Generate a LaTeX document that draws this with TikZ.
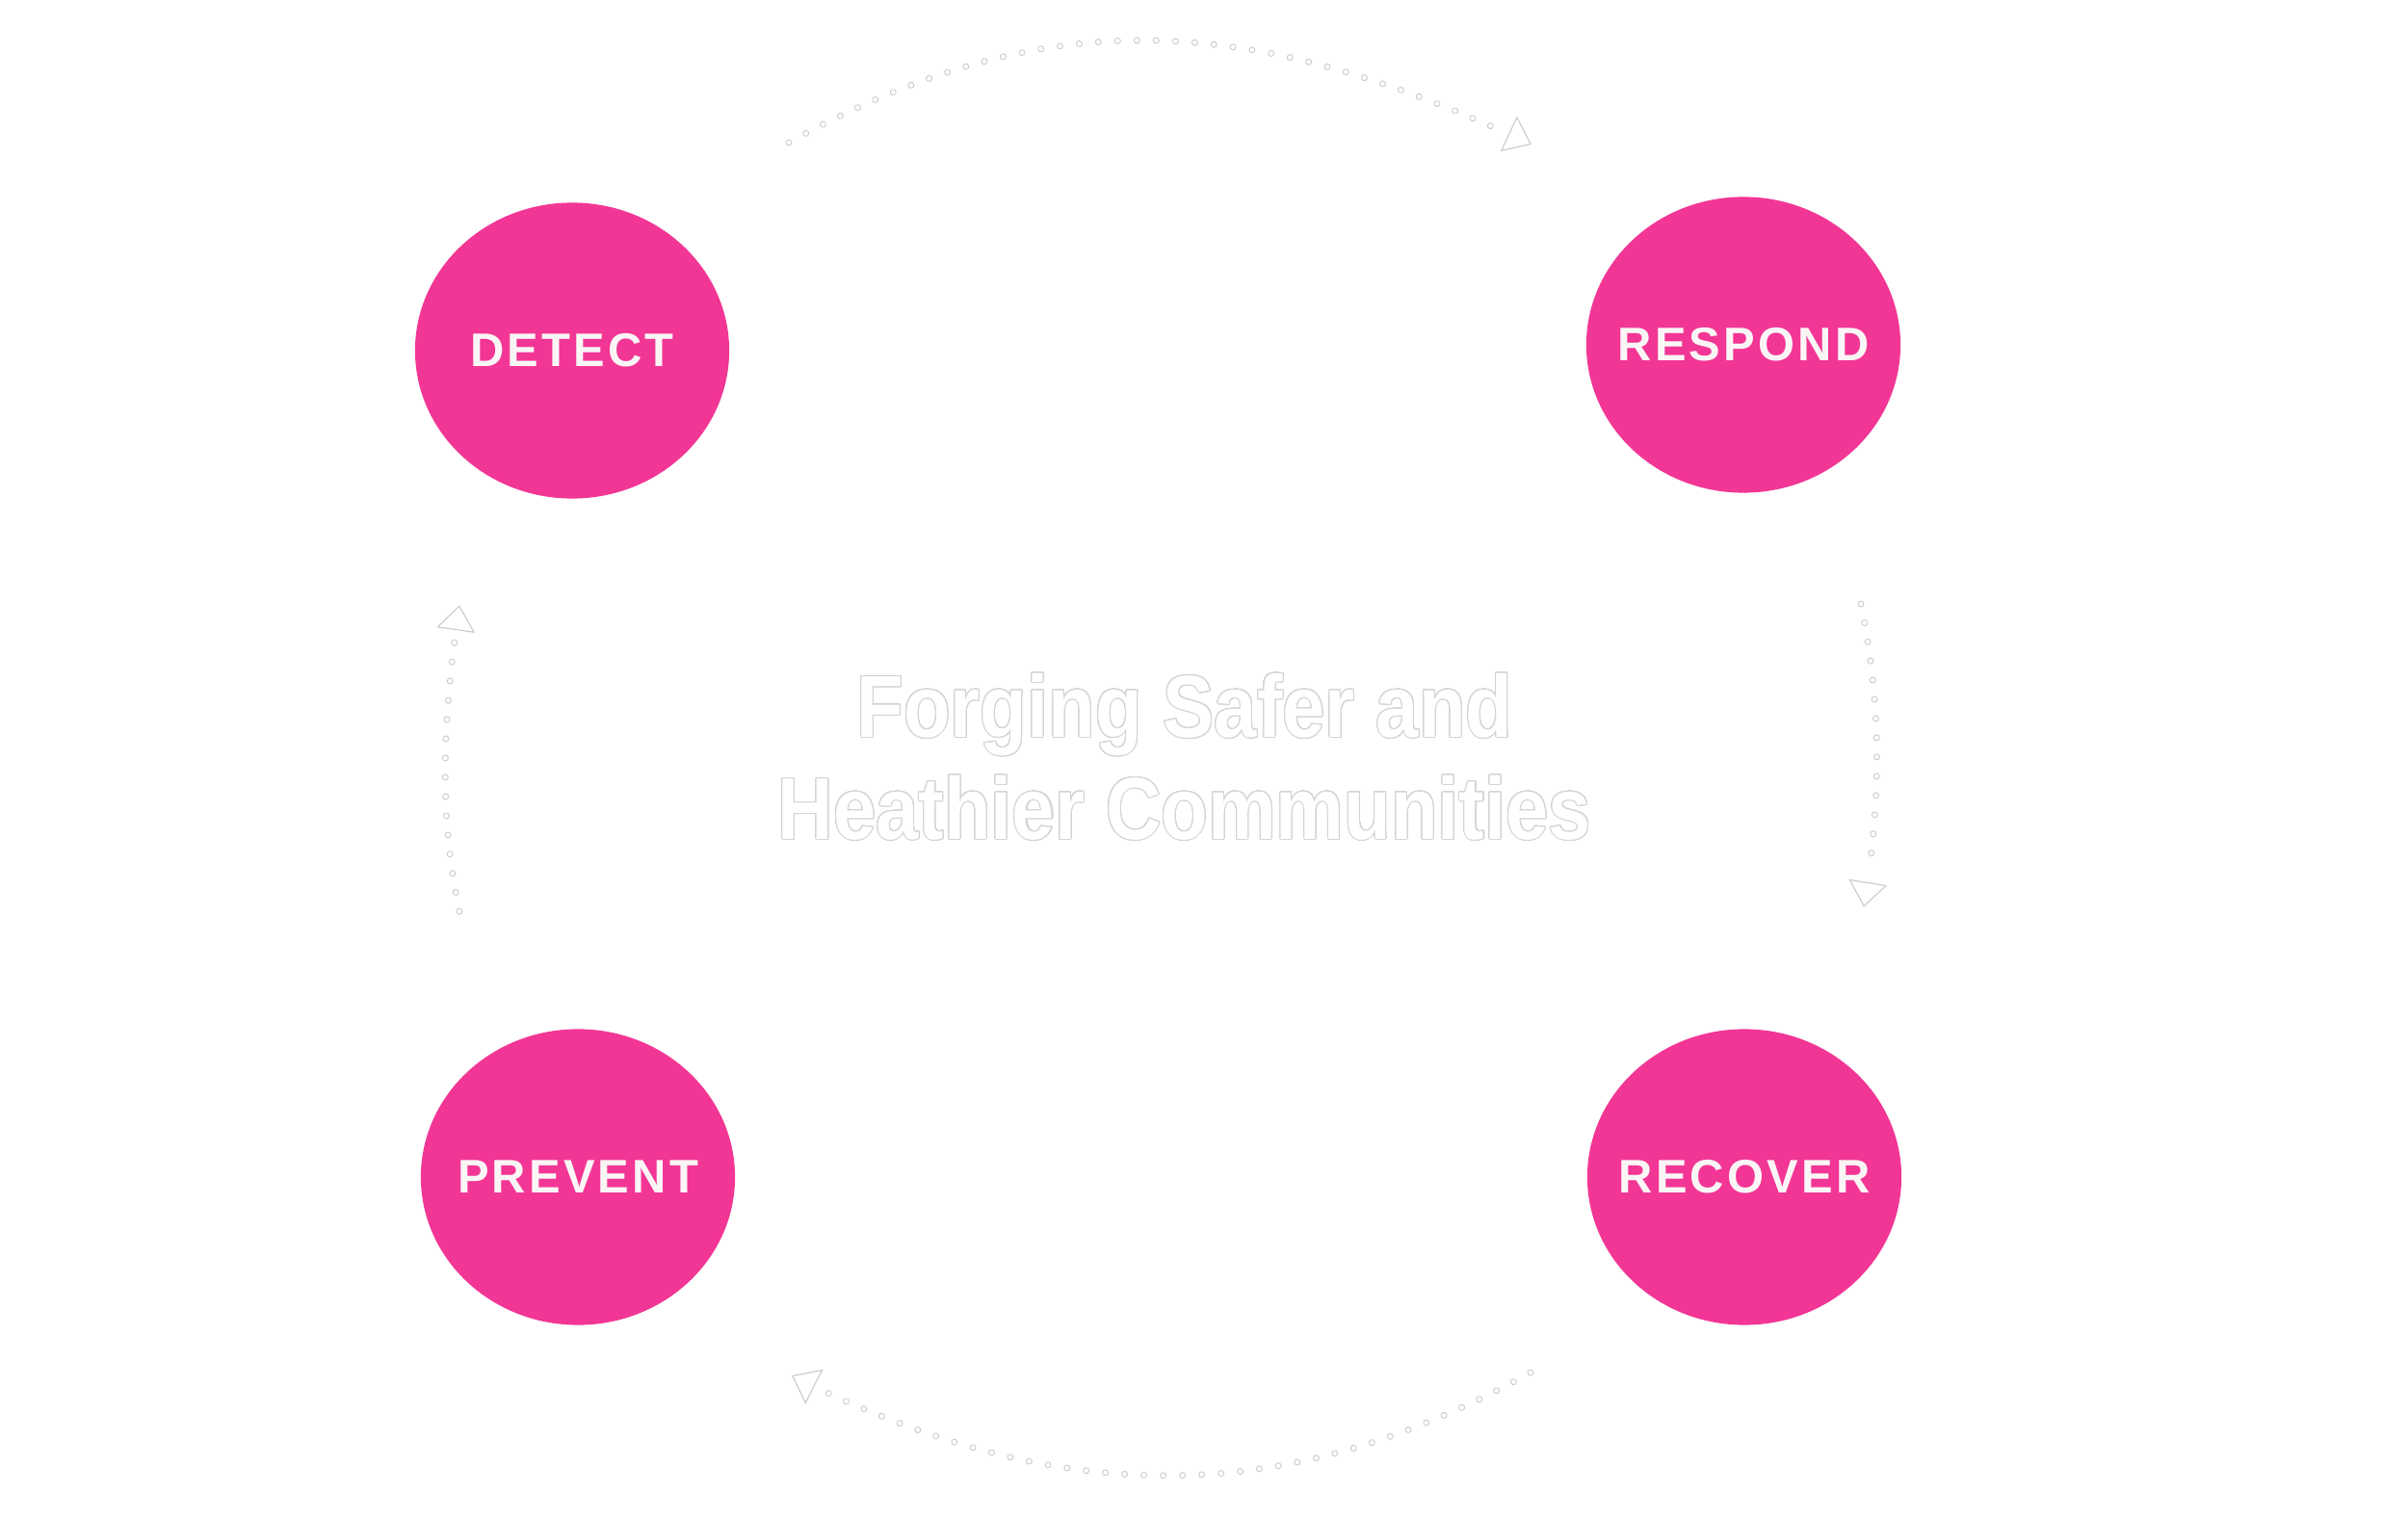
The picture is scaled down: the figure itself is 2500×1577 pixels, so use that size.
\documentclass[tikz,border=0pt]{standalone}
\usepackage{fontspec}
\usepackage{contour}
\usetikzlibrary{shapes.geometric, arrows.meta, decorations.markings}

\definecolor{phasepink}{HTML}{F23695}
\definecolor{phasetext}{HTML}{FBF6F6}
\definecolor{dotgray}{HTML}{C9C9C9}
\definecolor{titlegray}{HTML}{D4D4D4}

\newfontfamily\phasefont[LetterSpace=6.5]{Liberation Sans Bold}
\newfontfamily\titlefont[FakeStretch=0.87]{Liberation Sans Bold}
\contourlength{0.3pt}
\contournumber{24}

\begin{document}
\begin{tikzpicture}[x=0.01cm, y=-0.01cm,
  phase/.style={ellipse, fill=phasepink, minimum width=3.26cm, minimum height=3.07cm,
    inner xsep=-0.6cm, inner ysep=0pt, text=phasetext,
    font=\phasefont\fontsize{13.9pt}{16pt}\selectfont},
  motto/.style={align=center, inner sep=0pt, text=white,
    font=\titlefont\fontsize{26pt}{30.1pt}\selectfont},
  dotarc/.style={postaction={decorate}, decoration={markings,
    mark=between positions 0 and -0.38cm step 0.2cm with
      {\draw[dotgray, line width=0.25pt, fill=white] (0,0) circle[radius=0.03cm];},
    mark=at position 0.999 with
      {\arrow[dotgray, line width=0.3pt]{Triangle[open, length=0.26cm, width=0.4cm]}}}}]
  \useasboundingbox (0,0) rectangle (2500,1577);
  \fill[white] (0,0) rectangle (2500,1577);

  \node[phase] (detect)  at (594,364)   {DETECT};
  \node[phase] (respond) at (1810,358)  {RESPOND};
  \node[phase] (prevent) at (600,1222)  {PREVENT};
  \node[phase] (recover) at (1811,1222) {RECOVER};

  \node[motto] (center) at (1230,786)
    {\contour{titlegray}{Forging Safer and}\\ \contour{titlegray}{Heathier Communities}};

  \coordinate (topS) at (819,148);
  \coordinate (topE) at (1590,150);
  \coordinate (rgtS) at (1932,627);
  \coordinate (rgtE) at (1935,942);
  \coordinate (botS) at (1589,1425);
  \coordinate (botE) at (822,1428);
  \coordinate (lftS) at (477,946);
  \coordinate (lftE) at (477,628);

  \path[dotarc] (topS) .. controls (1094,-4) and (1306,17) .. (topE);
  \path[dotarc] (rgtS) .. controls (1954,735) and (1953,831) .. (rgtE);
  \path[dotarc] (botS) .. controls (1327,1571) and (1090,1563) .. (botE);
  \path[dotarc] (lftS) .. controls (454,838) and (461,739) .. (lftE);
\end{tikzpicture}
\end{document}
